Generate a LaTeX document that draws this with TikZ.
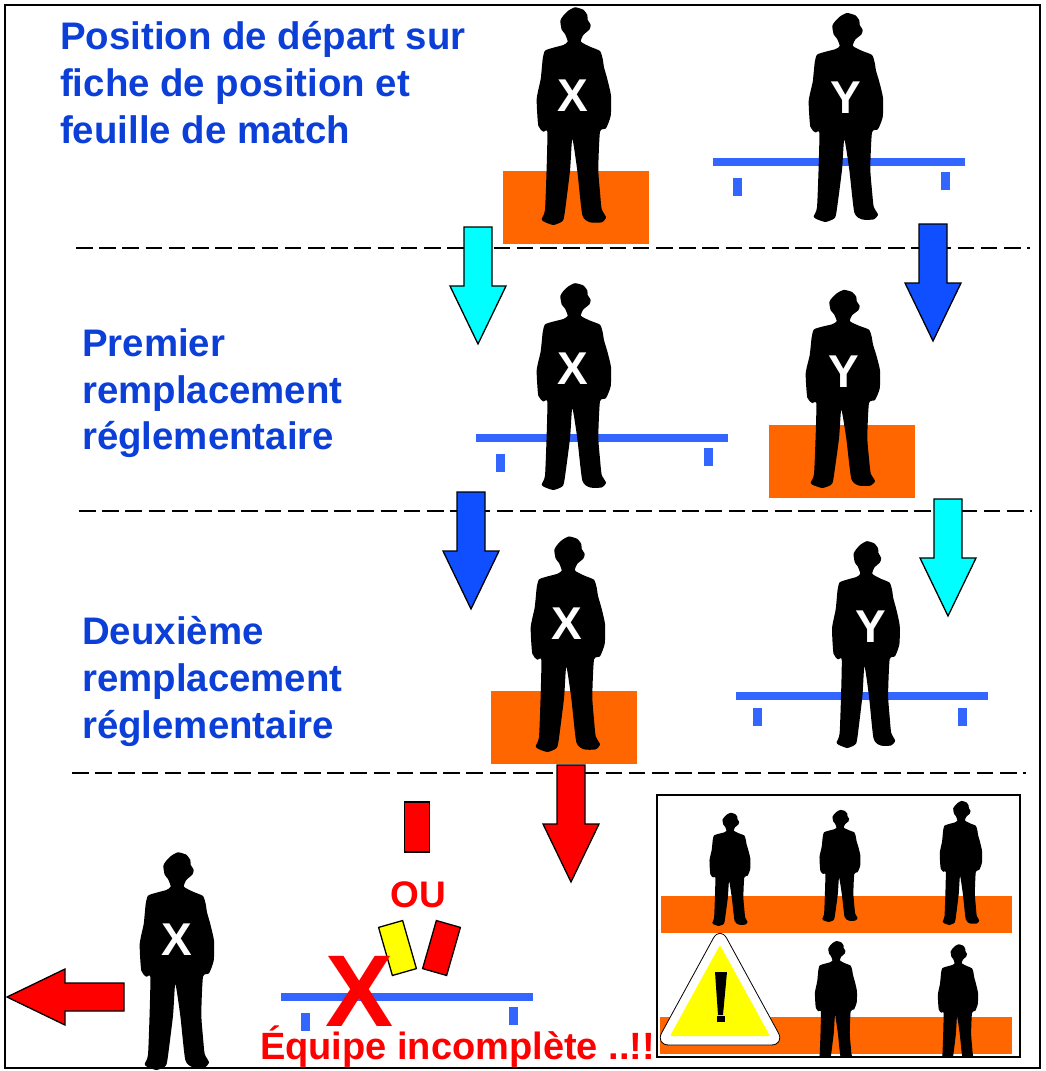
\documentclass[tikz,border=0pt]{standalone}
\usepackage{fontspec}
\setmainfont{Liberation Sans}
\definecolor{headblue}{HTML}{0B3FD8}
\definecolor{benchblue}{HTML}{3366FF}
\definecolor{darkarrow}{HTML}{0F4FFF}
\definecolor{lightarrow}{HTML}{00FFFF}
\definecolor{floororange}{HTML}{FF6600}
\definecolor{cardyellow}{HTML}{FFFF00}
\tikzset{
    heading/.style={text=headblue, font=\bfseries\fontsize{38.4}{46.6}\selectfont, align=left, anchor=north west, inner sep=0pt},
    letter/.style={text=white, font=\bfseries\fontsize{46}{46}\selectfont, inner sep=0pt},
    redtext/.style={text=red, font=\bfseries\fontsize{37}{37}\selectfont, inner sep=0pt},
    floor/.style={fill=floororange},
    card/.style={draw=black, line width=1.3pt, minimum width=25pt, minimum height=50pt, inner sep=0pt},
    separator/.style={line width=1.4pt, dash pattern=on 16.5pt off 6.7pt},
    pics/person/.style={code={
        \fill[black] plot[smooth cycle, tension=0.35] coordinates {
            (-6.3,-183.3) (-9,-191) (-12.3,-195.3) (-13.7,-204.3) (-10.7,-209.3) (-5.7,-214.3)
            (1,-217.7) (9.3,-215.3) (13.3,-210) (13.7,-205.3) (16.7,-200) (15.3,-195.3)
            (9.3,-190) (7,-183.3) (16,-178.3) (26,-174) (28.7,-166) (30,-157.7)
            (33.3,-146) (37,-129.3) (36.7,-109.3) (32,-96.7) (26,-93.3) (24.3,-56)
            (26,-32.7) (27.7,-16) (32,-7.7) (27.7,-2.7) (16,-2.7) (8.3,-10)
            (3.3,-54.3) (-1.7,-86) (-4,-54.3) (-9.7,-9.3) (-12.3,-3.3) (-20.7,0)
            (-30,-3.3) (-32.3,-6) (-29,-15.3) (-27.3,-59.3) (-26.7,-93.3) (-30.7,-93.3)
            (-35.7,-99.3) (-37.3,-126) (-33.3,-146) (-31.3,-166) (-29,-174.3)
            (-20.7,-177.3) (-10.7,-180)};
    }},
    pics/bench/.style n args={4}{code={
        \fill[benchblue] (0,0) rectangle (252,8);
        \fill[benchblue] (#1,#2) rectangle ++(9,18);
        \fill[benchblue] (#3,#4) rectangle ++(9,18);
    }},
    pics/blockarrow/.style={code={
        \draw[line width=1.3pt, line join=miter, fill=#1] (-14,0) -- (14,0) -- (14,59) -- (28,59) -- (0,117)
            -- (-28,59) -- (-14,59) -- cycle;
    }},
}

\begin{document}
\begin{tikzpicture}[x=1pt, y=-1pt]

    \useasboundingbox (0,0) rectangle (1045,1071);

    % Orange floors
    \fill[floor] (503,171) rectangle (649,244);
    \fill[floor] (769,425) rectangle (915,498);
    \fill[floor] (491,691) rectangle (637,764);
    \fill[floor] (661,896) rectangle (1012,933);
    \fill[floor] (660,1017) rectangle (1012,1054);

    % Benches
    \pic at (713,158) {bench={20}{20}{228}{14}};
    \pic at (476,434) {bench={20}{20}{228}{14}};
    \pic at (736,692) {bench={17}{16}{222}{16}};
    \pic at (281,993) {bench={20}{20}{228}{14}};

    % Players of the three rows
    \pic at (574,225) {person};
    \pic[xscale=1, yscale=0.96] at (846,222) {person};
    \pic[yscale=0.95] at (574,490) {person};
    \pic[yscale=0.91] at (843,488) {person};
    \pic[yscale=0.99, xscale=1] at (568,752) {person};
    \pic[xscale=0.91, yscale=0.95] at (866,748) {person};
    \pic at (177,1070) {person};

    % Players in the small box
    \begin{scope}
        \clip (657,795) rectangle (1020,1057);
        \pic[xscale=0.55, yscale=0.52] at (730,926) {person};
        \pic[xscale=0.55, yscale=0.515] at (840,922) {person};
        \pic[xscale=0.57, yscale=0.57] at (961,925) {person};
        \pic[xscale=0.565, yscale=0.565] at (836,1064) {person};
        \pic[xscale=0.54, yscale=0.55] at (958,1064) {person};
    \end{scope}

    % Letters on the players
    \node[letter] (xone) at (573,96) {X};
    \node[letter] (yone) at (846,98) {Y};
    \node[letter] (xtwo) at (573,369) {X};
    \node[letter] (ytwo) at (844,372) {Y};
    \node[letter] (xthree) at (567,624) {X};
    \node[letter] (ythree) at (871,627) {Y};
    \node[letter] (xfour) at (177,940) {X};

    % Separators
    \draw[separator] (76,248) -- (1030,248);
    \draw[separator] (79,511) -- (1032,511);
    \draw[separator] (72,773) -- (1026,773);

    % Arrows
    \pic at (478,227) {blockarrow=lightarrow};
    \pic at (933,224) {blockarrow=darkarrow};
    \pic at (471,492) {blockarrow=darkarrow};
    \pic at (948,499) {blockarrow=lightarrow};
    \pic at (571,765) {blockarrow=red};
    \pic[rotate=-90] at (124,997) {blockarrow=red};

    % Row titles
    \node[heading] (titleone) at (60,21.5) {Position de départ sur\\fiche de position et\\feuille de match};
    \node[heading] (titletwo) at (82,328.5) {Premier\\remplacement\\réglementaire};
    \node[heading] (titlethree) at (82,616.5) {Deuxième\\remplacement\\réglementaire};

    % Cards
    \node[card, fill=red] (cardtop) at (417,827) {};
    \node[card, fill=cardyellow, rotate=16] (cardleft) at (397.5,948) {};
    \node[card, fill=red, rotate=-16] (cardright) at (441.5,948) {};
    \node[redtext] (ou) at (418,895) {OU};

    % Big cross and message
    \node[text=red, font=\bfseries\fontsize{102}{102}\selectfont, inner sep=0pt] (bigx) at (360,991) {X};
    \node[redtext, font=\bfseries\fontsize{38}{38}\selectfont, anchor=base west] (message) at (260,1059) {Équipe incomplète ..!!};

    % Warning sign
    \draw[fill=white, line width=0.8pt, rounded corners=14pt] (720,926) -- (785,1045) -- (655,1045) -- cycle;
    \fill[cardyellow, rounded corners=2pt] (720,945) -- (770,1036) -- (670,1036) -- cycle;
    \fill[black] (715,972) -- (727,972) -- (723,1015) -- (718,1015) -- cycle;
    \fill[black] (717,1016) rectangle (725,1022);

    % Frames
    \draw[line width=1.4pt] (657,795) rectangle (1020,1057);
    \draw[line width=1.6pt] (5,5) rectangle (1040,1068);

\end{tikzpicture}
\end{document}
